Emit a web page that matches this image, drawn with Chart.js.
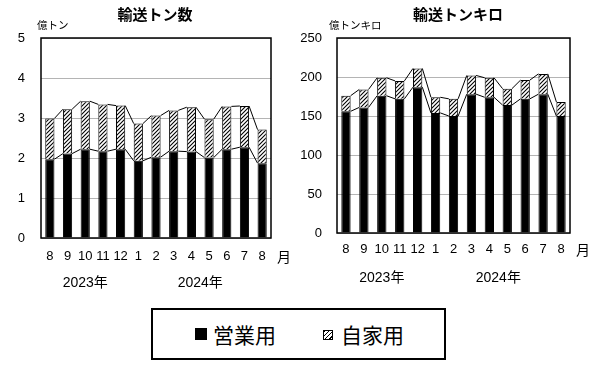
<!DOCTYPE html>
<html><head><meta charset="utf-8">
<script src="https://cdn.jsdelivr.net/npm/chart.js@4"></script>
<style>
body{margin:0;width:600px;height:375px;background:#fff;position:relative;overflow:hidden;font-family:'Noto Sans CJK JP',sans-serif}
canvas{position:absolute;top:0}
#c1{left:0}
#c2{left:300px}
#legend{position:absolute;left:151px;top:308px;width:291px;height:48px;border:2px solid #000}
#legend .m{position:absolute}
#legend .t{position:absolute;top:12px;line-height:24px;font-size:21px;color:#000;white-space:nowrap}
</style></head>
<body>
<canvas id="c1" width="300" height="300"></canvas>
<canvas id="c2" width="300" height="300"></canvas>
<div id="legend">
  <div class="m" style="left:42px;top:18px;width:12px;height:12px;background:#000"></div>
  <div class="t" style="left:60px">営業用</div>
  <div class="m" style="left:170px;top:20px;width:8px;height:8px;border:1px solid #000;background:repeating-linear-gradient(135deg,#000 0 1px,#fff 1px 3px)"></div>
  <div class="t" style="left:188px">自家用</div>
</div>
<script>
// ---- data ----
const months = ['8','9','10','11','12','1','2','3','4','5','6','7','8'];
const yearLabels = ['2023年','2024年'];
const seriesNames = ['営業用','自家用'];
// 輸送トン数 (億トン)
const tonCommercial = [1.97, 2.11, 2.22, 2.17, 2.22, 1.93, 2.02, 2.17, 2.16, 2.01, 2.22, 2.27, 1.87];
const tonPrivate    = [1.02, 1.11, 1.20, 1.17, 1.09, 0.93, 1.04, 1.02, 1.11, 0.96, 1.07, 1.03, 0.84];
// 輸送トンキロ (億トンキロ)
const tkmCommercial = [156, 161, 176, 172, 187, 154, 150, 178, 174, 164, 172, 178, 150];
const tkmPrivate    = [20, 23, 23, 23, 24, 20, 22, 24, 25, 21, 24, 26, 18];
const tonAxis = {max: 5, step: 1};
const tkmAxis = {max: 250, step: 50};

Chart.defaults.font.family = "'Liberation Sans','Noto Sans CJK JP',sans-serif";
Chart.defaults.color = '#000';

function makeHatch(){
  const c = document.createElement('canvas'); c.width = 4; c.height = 4;
  const x = c.getContext('2d');
  x.fillStyle = '#fff'; x.fillRect(0,0,4,4);
  x.strokeStyle = '#000'; x.lineWidth = 1.1;
  x.beginPath();
  x.moveTo(0,4); x.lineTo(4,0);
  x.moveTo(-1,1); x.lineTo(1,-1);
  x.moveTo(3,5); x.lineTo(5,3);
  x.stroke();
  return x.createPattern(c, 'repeat');
}
const hatch = makeHatch();

const seriesLines = {
  id: 'seriesLines',
  afterDatasetsDraw(chart){
    const ctx = chart.ctx;
    ctx.save(); ctx.strokeStyle = '#000'; ctx.lineWidth = 1;
    chart.data.datasets.forEach((ds, d) => {
      const meta = chart.getDatasetMeta(d);
      for (let i = 0; i < meta.data.length - 1; i++){
        const a = meta.data[i], b = meta.data[i+1];
        ctx.beginPath();
        ctx.moveTo(a.x + a.width/2, a.y);
        ctx.lineTo(b.x - b.width/2, b.y);
        ctx.stroke();
      }
    });
    ctx.restore();
  }
};

const decor = {
  id: 'decor',
  afterDraw(chart, args, o){
    const ctx = chart.ctx, a = chart.chartArea, xs = chart.scales.x;
    ctx.save();
    ctx.strokeStyle = '#000'; ctx.lineWidth = 1.5;
    ctx.strokeRect(a.left, a.top, a.right - a.left, a.bottom - a.top);
    ctx.fillStyle = '#000';
    ctx.textAlign = 'center'; ctx.textBaseline = 'middle';
    ctx.font = "bold 15px 'Noto Sans CJK JP'";
    ctx.fillText(o.title, o.titleX, 14);
    ctx.textAlign = 'left';
    ctx.font = "10.5px 'Noto Sans CJK JP'";
    ctx.fillText(o.unit, o.unitX, 25.5);
    ctx.font = "14px 'Noto Sans CJK JP'";
    ctx.fillText('月', a.right + 6, a.bottom + o.tickY);
    ctx.textAlign = 'center';
    ctx.font = "14px 'Liberation Sans','Noto Sans CJK JP'";
    ctx.fillText(yearLabels[0], xs.getPixelForValue(2), a.bottom + 45);
    ctx.fillText(yearLabels[1], (xs.getPixelForValue(8) + xs.getPixelForValue(9))/2, a.bottom + 45);
    ctx.restore();
  }
};

function build(id, commercial, priv, axis, cfg){
  return new Chart(document.getElementById(id), {
    type: 'bar',
    data: {
      labels: months,
      datasets: [
        {label: seriesNames[0], data: commercial, backgroundColor: '#000', borderColor: '#000', borderWidth: 1,
         categoryPercentage: 1, barPercentage: 0.52},
        {label: seriesNames[1], data: priv, backgroundColor: hatch, borderColor: '#000', borderWidth: 1,
         categoryPercentage: 1, barPercentage: 0.52}
      ]
    },
    options: {
      responsive: false, animation: false, devicePixelRatio: 1,
      layout: {padding: {left: 0, right: cfg.padR, top: 38, bottom: 0}},
      plugins: {
        legend: {display: false}, tooltip: {enabled: false}, title: {display: false},
        decor: {title: cfg.title, titleX: cfg.titleX, unit: cfg.unit, unitX: cfg.unitX, tickY: cfg.tickY}
      },
      scales: {
        x: {
          stacked: true,
          grid: {display: false, drawTicks: false},
          border: {display: false},
          ticks: {font: {size: 13}, padding: cfg.xPad, maxRotation: 0, autoSkip: false},
          afterFit: s => { s.height = cfg.xH; }
        },
        y: {
          stacked: true, min: 0, max: axis.max,
          grid: {color: '#b4b4b4', lineWidth: 1, drawTicks: false},
          border: {display: false},
          ticks: {stepSize: axis.step, font: {size: 13}, padding: cfg.yPad},
          afterFit: s => { s.width = cfg.yW; }
        }
      }
    },
    plugins: [seriesLines, decor]
  });
}

build('c1', tonCommercial, tonPrivate, tonAxis,
  {yW: 41, padR: 29, xH: 62, xPad: 11, yPad: 16, title: '輸送トン数', titleX: 155, unit: '億トン', unitX: 37, tickY: 19});
build('c2', tkmCommercial, tkmPrivate, tkmAxis,
  {yW: 37, padR: 30, xH: 67, xPad: 9, yPad: 15, title: '輸送トンキロ', titleX: 158, unit: '億トンキロ', unitX: 29, tickY: 17});
</script>
</body></html>
